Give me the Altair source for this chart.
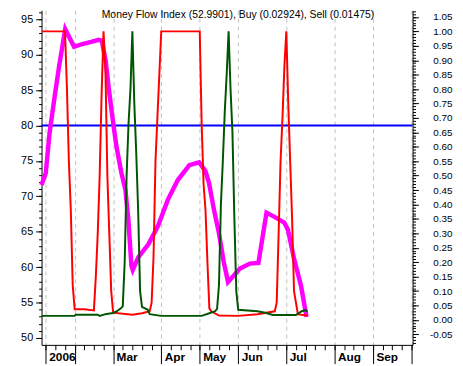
import altair as alt
import pandas as pd

# ---- data (x = trading-day index, 0 = first trading day of 2006) ----
mfi_day = [-2.2, 0, 1.9, 4.5, 7.0, 10.1, 14.7, 19, 23.6, 27.5, 29.1, 31.2, 32.7, 35.2, 36.8,
           39.3, 41.4, 42.9, 44.5, 45.2, 48.1, 53.2, 58.3, 63.4, 68.6, 74.6, 79.7, 82.9,
           84.8, 87.4, 89.9, 92.5, 94.7, 97.6, 100.9, 106, 110.5, 114.7, 118.8, 123.9,
           125.8, 129, 132.6, 135.5]
mfi_val = [71.6, 73.3, 78.8, 83.9, 88.5, 93.6, 91.1, 91.5, 91.8, 92.1, 92.0, 89.0, 85.3, 80.0,
           76.9, 73.3, 70.9, 66.7, 60.2, 59.6, 61.4, 63.2, 65.8, 69.5, 72.3, 74.4, 74.8,
           73.6, 71.9, 68.1, 64.9, 60.7, 57.9, 58.8, 59.8, 60.5, 60.6, 67.7, 67.1, 66.3,
           65.3, 61.2, 57.4, 52.99]

sell_day = [-2.2, 10, 11, 12, 13, 14, 15, 20, 25, 26, 27, 28, 29, 30, 31, 32, 33, 34, 35,
            45, 50, 54, 55, 56, 57, 58, 59, 60, 80, 81, 82, 83, 84, 85, 86, 90, 100, 110,
            119, 120, 121, 122, 123, 124, 125, 126, 127, 128, 129, 130, 131, 136]
sell_val = [1.0, 1.0, 0.8, 0.55, 0.38, 0.12, 0.037, 0.037, 0.033, 0.15, 0.3, 0.5, 0.78, 1.0,
            0.87, 0.5, 0.3, 0.1, 0.025, 0.018, 0.023, 0.03, 0.06, 0.22, 0.55, 0.7, 0.85,
            1.0, 1.0, 0.68, 0.47, 0.38, 0.2, 0.04, 0.03, 0.015, 0.014, 0.02, 0.03, 0.06,
            0.3, 0.55, 0.7, 0.88, 1.0, 0.75, 0.55, 0.35, 0.1, 0.06, 0.02, 0.01475]

buy_day = [-2.2, 15, 15.5, 27, 28, 31, 34, 35, 37, 39, 40, 41, 42, 43, 44, 45, 46, 47, 48,
           49, 50, 53, 54, 60, 81, 85, 88, 89, 90, 91, 92, 93, 94, 95, 96, 97, 98, 99, 100,
           110, 114, 118, 125, 130, 133, 135, 136]
buy_val = [0.014, 0.014, 0.018, 0.018, 0.014, 0.02, 0.023, 0.024, 0.03, 0.04, 0.047, 0.2,
           0.5, 0.68, 0.8, 1.0, 0.75, 0.58, 0.38, 0.1, 0.045, 0.035, 0.02, 0.014, 0.014,
           0.023, 0.03, 0.038, 0.12, 0.4, 0.55, 0.72, 0.85, 1.0, 0.8, 0.65, 0.35, 0.1,
           0.035, 0.03, 0.025, 0.017, 0.017, 0.017, 0.03, 0.034, 0.02924]

threshold = [80]

month_days = [0, 15, 35, 60, 80, 100, 125, 150, 170, 190]
month_labels = ["2006", "", "Mar", "Apr", "May", "Jun", "Jul", "Aug", "Sep", ""]
week_days = list(range(0, 191, 5))

mfi_major = list(range(50, 96, 5))
mfi_minor = list(range(49, 97))
bs_major = [round(-0.05 + 0.05 * i, 2) for i in range(23)]
bs_minor = [round(-0.08 + 0.01 * i, 2) for i in range(116)]

title_text = "Money Flow Index (52.9901), Buy (0.02924), Sell (0.01475)"

# ---- scales ----
X_DOM = [-2.2, 190.6]
MFI_DOM = [49.03, 96.25]
BS_DOM = [-0.0865, 1.0728]

xs = alt.Scale(domain=X_DOM, nice=False, zero=False)
ms = alt.Scale(domain=MFI_DOM, nice=False, zero=False)
bs = alt.Scale(domain=BS_DOM, nice=False, zero=False)

mfi_df = pd.DataFrame({"day": mfi_day, "value": mfi_val})
sell_df = pd.DataFrame({"day": sell_day, "value": sell_val})
buy_df = pd.DataFrame({"day": buy_day, "value": buy_val})
thr_df = pd.DataFrame({"level": threshold})
dummy_df = pd.DataFrame({"day": [0], "value": [50], "v": [0.5]})

label_expr = " : ".join(
    f"datum.value == {d} ? '{l}'" for d, l in zip(month_days, month_labels)
) + " : ''"

FONT = "Liberation Sans"
NARROW = "Liberation Sans Narrow, Liberation Sans"

x_major = alt.Axis(values=month_days, labelExpr=label_expr, orient="bottom", title=None,
                   tickSize=19, tickColor="black", domainColor="black",
                   grid=True, gridDash=[4, 4], gridColor="#c0c0c0", gridWidth=1,
                   labelAlign="left", labelBaseline="top", labelPadding=-12, labelOffset=3,
                   labelFont=FONT, labelFontSize=12, labelFontWeight="bold",
                   labelColor="black", labelOverlap=False, labelFlush=False)
x_minor = alt.Axis(values=week_days, orient="bottom", title=None, labels=False,
                   domain=False, grid=False, tickSize=5, tickColor="black")

y_left = alt.Axis(values=mfi_major, orient="left", title=None, tickSize=6,
                  tickColor="black", domainColor="black", grid=False, labelPadding=3,
                  labelFont=FONT, labelFontSize=11, labelColor="black",
                  labelOverlap=False, labelFlush=False)
y_left_minor = alt.Axis(values=mfi_minor, orient="left", title=None, labels=False,
                        domain=False, grid=False, tickSize=3, tickColor="black")

y_right = alt.Axis(values=bs_major, orient="right", title=None, tickSize=6,
                   tickColor="black", domainColor="black", grid=False,
                   labelAlign="right", labelPadding=34,
                   labelExpr="replace(format(datum.value, '.2f'), '\u2212', '-')",
                   labelFont=NARROW, labelFontSize=10, labelColor="black",
                   labelOverlap=False, labelFlush=False)
y_right_minor = alt.Axis(values=bs_minor, orient="right", title=None, labels=False,
                         domain=False, grid=False, tickSize=3, tickColor="black")

blue = alt.Chart(thr_df).mark_rule(color="#0000ff", strokeWidth=2).encode(
    y=alt.Y("level:Q", scale=ms, axis=None)
)

mfi = alt.Chart(mfi_df).mark_line(color="#ff00ff", strokeWidth=4.5).encode(
    x=alt.X("day:Q", scale=xs, axis=x_major),
    y=alt.Y("value:Q", scale=ms, axis=y_left),
)

sell = alt.Chart(sell_df).mark_line(color="#ff0000", strokeWidth=2).encode(
    x=alt.X("day:Q", scale=xs, axis=None),
    y=alt.Y("value:Q", scale=bs, axis=y_right),
)

buy = alt.Chart(buy_df).mark_line(color="#005500", strokeWidth=2).encode(
    x=alt.X("day:Q", scale=xs, axis=None),
    y=alt.Y("value:Q", scale=bs, axis=None),
)

minor1 = alt.Chart(dummy_df).mark_point(opacity=0).encode(
    x=alt.X("day:Q", scale=xs, axis=x_minor),
    y=alt.Y("value:Q", scale=ms, axis=y_left_minor),
)
minor2 = alt.Chart(dummy_df).mark_point(opacity=0).encode(
    x=alt.X("day:Q", scale=xs, axis=None),
    y=alt.Y("v:Q", scale=bs, axis=y_right_minor),
)

title = alt.Chart(pd.DataFrame({"t": [title_text]})).mark_text(
    font=NARROW, fontSize=10.5, color="black", align="left", baseline="top"
).encode(text="t:N", x=alt.value(61), y=alt.value(0))

chart = (
    alt.layer(blue, mfi, sell, buy, minor1, minor2, title)
    .resolve_scale(y="independent")
    .resolve_axis(x="independent", y="independent")
    .properties(
        width=376, height=339,
        autosize=alt.AutoSizeParams(type="none"),
        padding={"left": 34, "top": 0, "right": 43, "bottom": 19},
        background="white",
    )
    .configure_view(stroke=None)
)

chart.save("out.html", embed_options={"renderer": "svg", "actions": False})
